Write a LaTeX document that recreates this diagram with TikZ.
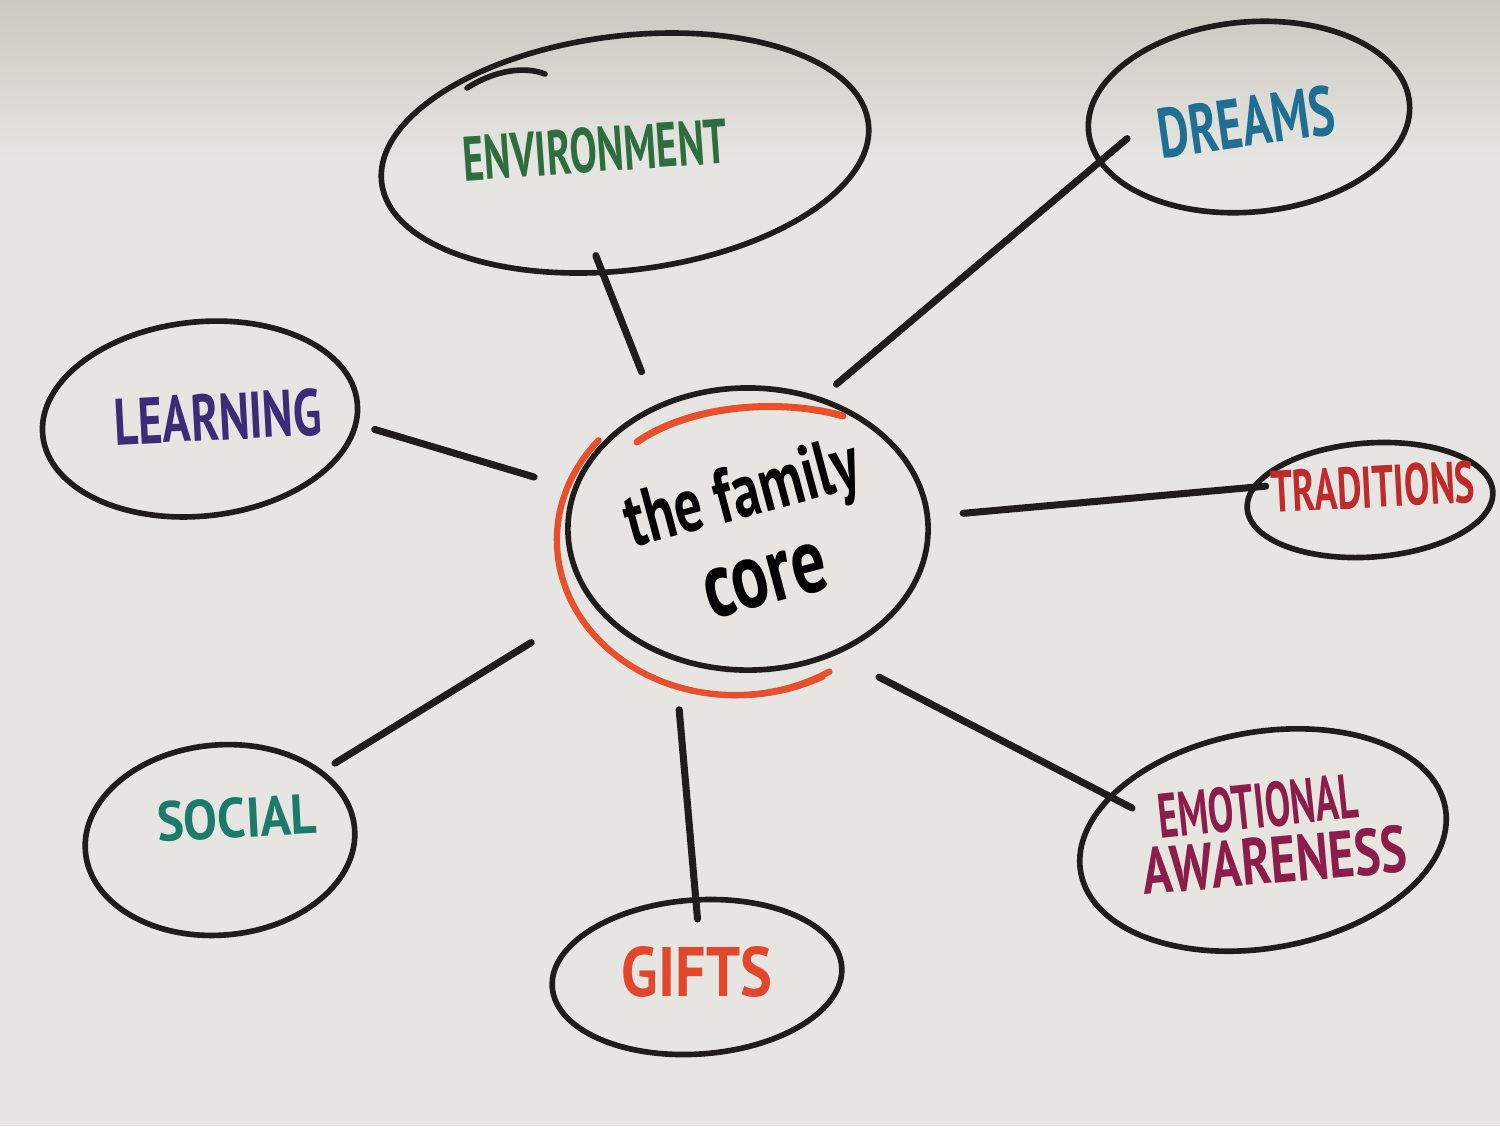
\documentclass[tikz,border=0pt]{standalone}
\usepackage{fontspec}
\usepackage{graphicx}
\usetikzlibrary{shapes.geometric}
\newfontfamily\handfont{PT Sans}
\definecolor{paper}{HTML}{E6E5E1}
\definecolor{paperdark}{HTML}{CBC8BF}
\definecolor{ink}{HTML}{1F1C1A}
\definecolor{marker}{HTML}{E8502C}
\definecolor{envgreen}{HTML}{2E6E3E}
\definecolor{dreamblue}{HTML}{1E6F93}
\definecolor{learnpurple}{HTML}{3A2C76}
\definecolor{tradred}{HTML}{BF2A2B}
\definecolor{socialteal}{HTML}{1C7A6A}
\definecolor{giftorange}{HTML}{E2472B}
\definecolor{emomaroon}{HTML}{8B1D48}
\tikzset{
  bubble/.style={draw=ink, line width=1.6pt, ellipse, inner sep=0pt},
  link/.style={draw=ink, line width=2pt, line cap=round},
  word/.style={inner sep=0pt, font=\handfont\bfseries},
}
\begin{document}
\begin{tikzpicture}[x=0.01cm, y=-0.01cm]
        % 背景
        \useasboundingbox (0,0) rectangle (1500,1126);
        \fill[paper] (0,0) rectangle (1500,1126);
        \shade[top color=paperdark, bottom color=paper] (0,0) rectangle (1500,160);

        % 中心
        \node[bubble, minimum width=3.6cm, minimum height=2.82cm] (core) at (748,529) {};
        \draw[marker, line width=1.8pt, line cap=round] ([shift={(140:1.78cm and 1.55cm)}]735,540)
          arc[start angle=140, end angle=302, x radius=1.78cm, y radius=1.55cm];
        \draw[marker, line width=1.2pt, line cap=round] ([shift={(205:1.82cm and 1.6cm)}]738,536)
          arc[start angle=205, end angle=298, x radius=1.82cm, y radius=1.6cm];
        \draw[marker, line width=2pt, line cap=round] (637,442) .. controls (690,405) and (780,398) .. (843,416);
        \node[word, rotate=15, align=left] (famtxt) at (753,534)
          {\resizebox{2.4cm}{0.55cm}{the family}\\[0.22cm]\hspace*{0.575cm}\resizebox{1.25cm}{0.48cm}{core}};

        % 周りの楕円
        \node[bubble, rotate=7, minimum width=4.9cm, minimum height=2.34cm] (env) at (625,153) {};
        \node[bubble, rotate=5, minimum width=3.22cm, minimum height=1.9cm] (dreams) at (1249,117) {};
        \node[bubble, rotate=6, minimum width=3.16cm, minimum height=1.94cm] (learn) at (200,419) {};
        \node[bubble, rotate=4, minimum width=2.46cm, minimum height=1.14cm] (trad) at (1370,500) {};
        \node[bubble, rotate=5, minimum width=2.7cm, minimum height=1.9cm] (social) at (220,840) {};
        \node[bubble, rotate=4, minimum width=2.9cm, minimum height=1.54cm] (gifts) at (697,977) {};
        \node[bubble, rotate=10, minimum width=3.7cm, minimum height=2.16cm] (emo) at (1263,840) {};
        \draw[ink, line width=1.6pt, line cap=round] (467,88) .. controls (495,70) and (525,66) .. (545,74);

        % 線
        \foreach \a/\n/\b/\s/\e in {127.5/env/-107/0.36cm/-0.21cm, 61/dreams/192/0.2cm/-0.38cm,
            167/learn/-8/0.40cm/0.17cm, 4/trad/170/0.33cm/-0.15cm, 206/social/29/0.72cm/0.14cm,
            241/gifts/87.5/0.49cm/-0.22cm, 305.6/emo/154/0.48cm/-0.27cm}
          \draw[link, shorten <=\s, shorten >=\e] (core.\a) -- (\n.\b);

        % 文字
        \node[word, text=envgreen, rotate=4] (envtxt) at (595,150) {\resizebox{2.65cm}{0.45cm}{ENVIRONMENT}};
        \node[word, text=dreamblue, rotate=8] (dreamtxt) at (1246,122) {\resizebox{1.78cm}{0.5cm}{DREAMS}};
        \node[word, text=learnpurple, rotate=3] (learntxt) at (218,417) {\resizebox{2.07cm}{0.47cm}{LEARNING}};
        \node[word, text=tradred, rotate=3] (tradtxt) at (1373,487) {\resizebox{2.04cm}{0.42cm}{TRADITIONS}};
        \node[word, text=socialteal, rotate=3] (socialtxt) at (237,818) {\resizebox{1.6cm}{0.4cm}{SOCIAL}};
        \node[word, text=giftorange] (giftstxt) at (697,972) {\resizebox{1.5cm}{0.5cm}{GIFTS}};
        \node[word, text=emomaroon, rotate=6] (emotxt) at (1258,806) {\resizebox{2cm}{0.45cm}{EMOTIONAL}};
        \node[word, text=emomaroon, rotate=5] (awaretxt) at (1275,860) {\resizebox{2.65cm}{0.47cm}{AWARENESS}};
\end{tikzpicture}
\end{document}
